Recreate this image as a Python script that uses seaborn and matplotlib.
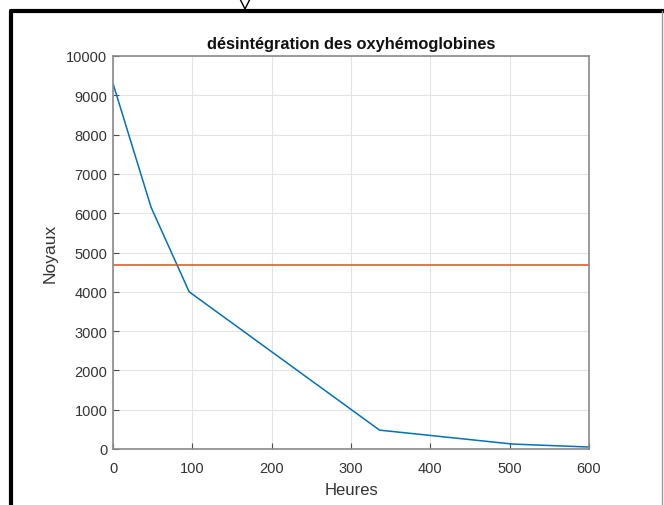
import matplotlib
matplotlib.use("Agg")
import matplotlib.pyplot as plt
import seaborn as sns
import pandas as pd
from matplotlib.lines import Line2D

# values
heures = [0, 48, 96, 336, 504, 600]
noyaux = [9300, 6150, 4000, 480, 125, 50]
seuil = 4680

df = pd.DataFrame({"Heures": heures, "Noyaux": noyaux})
df_seuil = pd.DataFrame({"Heures": [0, 600], "Noyaux": [seuil, seuil]})

sns.set_style("whitegrid")
plt.rcParams["font.family"] = ["Liberation Sans", "DejaVu Sans"]

fig = plt.figure(figsize=(6.64, 5.06), dpi=100)
ax = fig.add_axes([113 / 664, 56 / 506, 476 / 664, 393 / 506])

sns.lineplot(ax=ax, data=df, x="Heures", y="Noyaux", color="#0072BD", linewidth=1.1)
sns.lineplot(ax=ax, data=df_seuil, x="Heures", y="Noyaux", color="#D95319", linewidth=1.1)

ax.set_xlim(0, 600)
ax.set_ylim(0, 10000)
ax.set_xticks(range(0, 601, 100))
ax.set_yticks(range(0, 10001, 1000))
ax.grid(True, color="#e3e3e3", linewidth=0.8)
ax.tick_params(direction="in", length=4, width=0.8, color="#4d4d4d",
               labelsize=10.5, labelcolor="#333333", pad=4)
ax.tick_params(axis="x", bottom=True, top=False, pad=9)
ax.tick_params(axis="y", left=True, right=False)
for s in ax.spines.values():
    s.set_color("#8a8a8a")
    s.set_linewidth(1.2)

ax.set_xlabel("Heures", fontsize=12, color="#333333", labelpad=5)
ax.set_ylabel("Noyaux", fontsize=12.5, color="#333333", labelpad=6)
ax.set_title("désintégration des oxyhémoglobines", fontsize=11.8, fontweight="bold",
             color="#111111", pad=6)

# frame of the screenshot
W, H = 664, 506
def px(x, y):
    return x / W, 1 - y / H
fig.add_artist(Line2D(*zip(px(11, 12), px(664, 12)), color="black", linewidth=3))
fig.add_artist(Line2D(*zip(px(11, 12), px(11, 506)), color="black", linewidth=3))
fig.add_artist(Line2D(*zip(px(662, 12), px(662, 506)), color="#999999", linewidth=1))
fig.add_artist(Line2D(*zip(px(240, 0), px(245, 10), px(250, 0)), color="black", linewidth=1))

fig.savefig("out.png", dpi=100)
